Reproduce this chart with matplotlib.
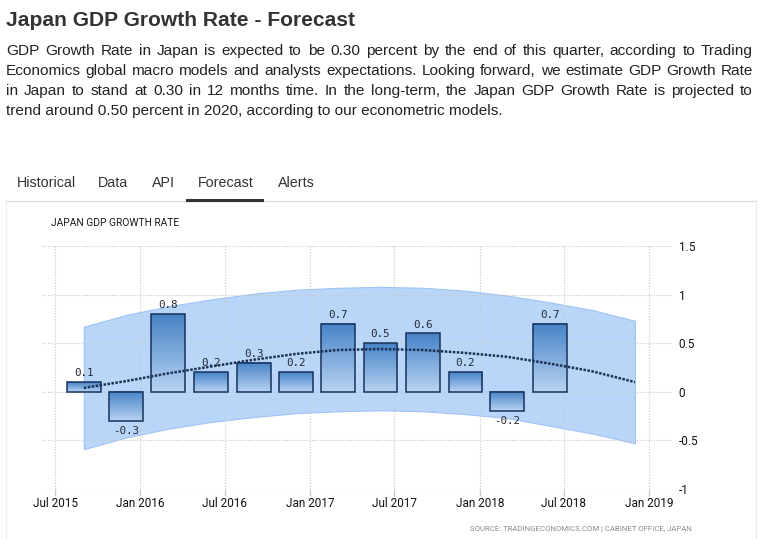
import numpy as np
import pandas as pd
import matplotlib
matplotlib.use('Agg')
import matplotlib.pyplot as plt
import matplotlib.dates as mdates
from matplotlib.colors import LinearSegmentedColormap
from matplotlib.lines import Line2D

W, H = 760, 539

# actual quarterly GDP growth (QoQ %)
quarters = ['2015Q3', '2015Q4', '2016Q1', '2016Q2', '2016Q3', '2016Q4',
            '2017Q1', '2017Q2', '2017Q3', '2017Q4', '2018Q1', '2018Q2']
growth = [0.1, -0.3, 0.8, 0.2, 0.3, 0.2, 0.7, 0.5, 0.6, 0.2, -0.2, 0.7]

# forecast trend and band
fc_quarters = ['2015Q3', '2015Q4', '2016Q1', '2016Q2', '2016Q3', '2016Q4', '2017Q1',
               '2017Q2', '2017Q3', '2017Q4', '2018Q1', '2018Q2', '2018Q3', '2018Q4']
fc_mid = [0.04, 0.11, 0.19, 0.26, 0.33, 0.39, 0.43, 0.44, 0.43, 0.40, 0.36, 0.29, 0.21, 0.10]
fc_upper = [0.67, 0.79, 0.88, 0.95, 1.01, 1.05, 1.07, 1.08, 1.07, 1.04, 0.99, 0.92, 0.84, 0.73]
fc_lower = [-0.59, -0.47, -0.38, -0.31, -0.26, -0.22, -0.20, -0.19, -0.20, -0.23, -0.27, -0.35, -0.43, -0.53]

tick_dates = ['2015-07-01', '2016-01-01', '2016-07-01', '2017-01-01',
              '2017-07-01', '2018-01-01', '2018-07-01', '2019-01-01']
tick_labels = ['Jul 2015', 'Jan 2016', 'Jul 2016', 'Jan 2017',
               'Jul 2017', 'Jan 2018', 'Jul 2018', 'Jan 2019']
y_ticks = [-1, -0.5, 0, 0.5, 1, 1.5]
y_labels = ['-1', '-0.5', '0', '0.5', '1', '1.5']

paragraph = [
    "GDP Growth Rate in Japan is expected to be 0.30 percent by the end of this quarter, according to Trading",
    "Economics global macro models and analysts expectations. Looking forward, we estimate GDP Growth Rate",
    "in Japan to stand at 0.30 in 12 months time. In the long-term, the Japan GDP Growth Rate is projected to",
    "trend around 0.50 percent in 2020, according to our econometric models.",
]
tabs = ['Historical', 'Data', 'API', 'Forecast', 'Alerts']
tab_x = [17, 98, 152, 198, 278]


def q2date(q):
    # bars sit on the first day of the quarter's last month
    return pd.Period(q, freq='Q').asfreq('M', 'end').to_timestamp()


def fx(x):
    return x / W


def fy(y):
    return 1 - y / H


fig = plt.figure(figsize=(W / 100, H / 100), dpi=100)
fig.patch.set_facecolor('white')
r = fig.canvas.get_renderer()

# header
fig.text(fx(6), fy(26), "Japan GDP Growth Rate - Forecast", family='Liberation Sans',
         weight='bold', fontsize=15.1, color='#333333', va='baseline')

para_kw = dict(family='Liberation Sans', fontsize=11.1, color='#222222', va='baseline')
for i, line in enumerate(paragraph):
    y = 55 + i * 20
    if i == len(paragraph) - 1:
        fig.text(fx(6), fy(y), line, **para_kw)
        continue
    words = line.split()
    arts = [fig.text(0, fy(y), w, **para_kw) for w in words]
    widths = [a.get_window_extent(r).width for a in arts]
    gap = (753 - 6 - sum(widths)) / (len(words) - 1)
    x = 6
    for a, w in zip(arts, widths):
        a.set_x(fx(x))
        x += w + gap

for t, x in zip(tabs, tab_x):
    fig.text(fx(x), fy(187), t, family='Liberation Sans', fontsize=10.3,
             color='#333333', va='baseline')

fig.add_artist(Line2D([fx(5), fx(756)], [fy(201), fy(201)], color='#dddddd', lw=1))
fig.add_artist(Line2D([fx(187), fx(262)], [fy(200), fy(200)], color='#333333', lw=2.2))
fig.add_artist(Line2D([fx(5.5), fx(5.5)], [fy(201), 0], color='#eeeeee', lw=1))
fig.add_artist(Line2D([fx(756), fx(756)], [fy(201), 0], color='#eeeeee', lw=1))

fig.text(fx(51), fy(226), "JAPAN GDP GROWTH RATE", family='Roboto', fontsize=7.4,
         color='#1a1a1a', va='baseline')
fig.text(fx(692), fy(531), "SOURCE: TRADINGECONOMICS.COM | CABINET OFFICE, JAPAN",
         family='Roboto', fontsize=5.6, color='#8a8a8a', ha='right', va='baseline')

# chart area
ax = fig.add_axes([fx(42), fy(489), (673 - 42) / W, (489 - 246) / H])
ax.set_facecolor('none')

bar_x = [mdates.date2num(q2date(q)) for q in quarters]
fc_x = [mdates.date2num(q2date(q)) for q in fc_quarters]

ax.fill_between(fc_x, fc_lower, fc_upper, facecolor='#b9d6f9', edgecolor='#9dc3f4',
                lw=0.8, zorder=0.3)

grad = LinearSegmentedColormap.from_list('bar', ['#4683c7', '#b8d3f2'])
bw = 73
for x, v in zip(bar_x, growth):
    top, bot = max(v, 0), min(v, 0)
    ax.imshow(np.linspace(0, 1, 100).reshape(-1, 1), cmap=grad, aspect='auto',
              extent=[x - bw / 2, x + bw / 2, bot, top], origin='upper', zorder=2)
ax.bar(bar_x, growth, width=bw, fill=False, edgecolor='#17325a', lw=1.1, zorder=3)

for x, v in zip(bar_x, growth):
    if v >= 0:
        ax.text(x, v + 0.04, f'{v:g}', ha='center', va='bottom', family='DejaVu Sans Mono',
                fontsize=7.8, color='#222a36', zorder=5)
    else:
        ax.text(x, v - 0.05, f'{v:g}', ha='center', va='top', family='DejaVu Sans Mono',
                fontsize=7.8, color='#222a36', zorder=5)

ax.plot(fc_x, fc_mid, color='#1d3154', lw=1.8, ls=(0, (1, 0.6)),
        dash_capstyle='butt', zorder=4)

ax.set_xlim(mdates.date2num(pd.Timestamp('2015-06-03')),
            mdates.date2num(pd.Timestamp('2019-02-21')))
ax.set_ylim(-1, 1.5)

ax.set_xticks([mdates.date2num(pd.Timestamp(d)) for d in tick_dates])
ax.set_xticklabels(tick_labels, family='Roboto', fontsize=8.5, color='#111111')
ax.set_yticks(y_ticks)
ax.set_yticklabels(y_labels, family='Roboto', fontsize=8.5, color='#111111')
ax.yaxis.tick_right()
ax.tick_params(axis='y', length=0, pad=4)
ax.tick_params(axis='x', length=5, color='#cccccc', width=1, pad=0.5)
ax.grid(True, color='#c8c8c8', lw=0.8, ls=(0, (1, 1.5)))
ax.set_axisbelow(True)
for s in ax.spines.values():
    s.set_visible(False)

plt.savefig('out.png', dpi=100, facecolor='white')
